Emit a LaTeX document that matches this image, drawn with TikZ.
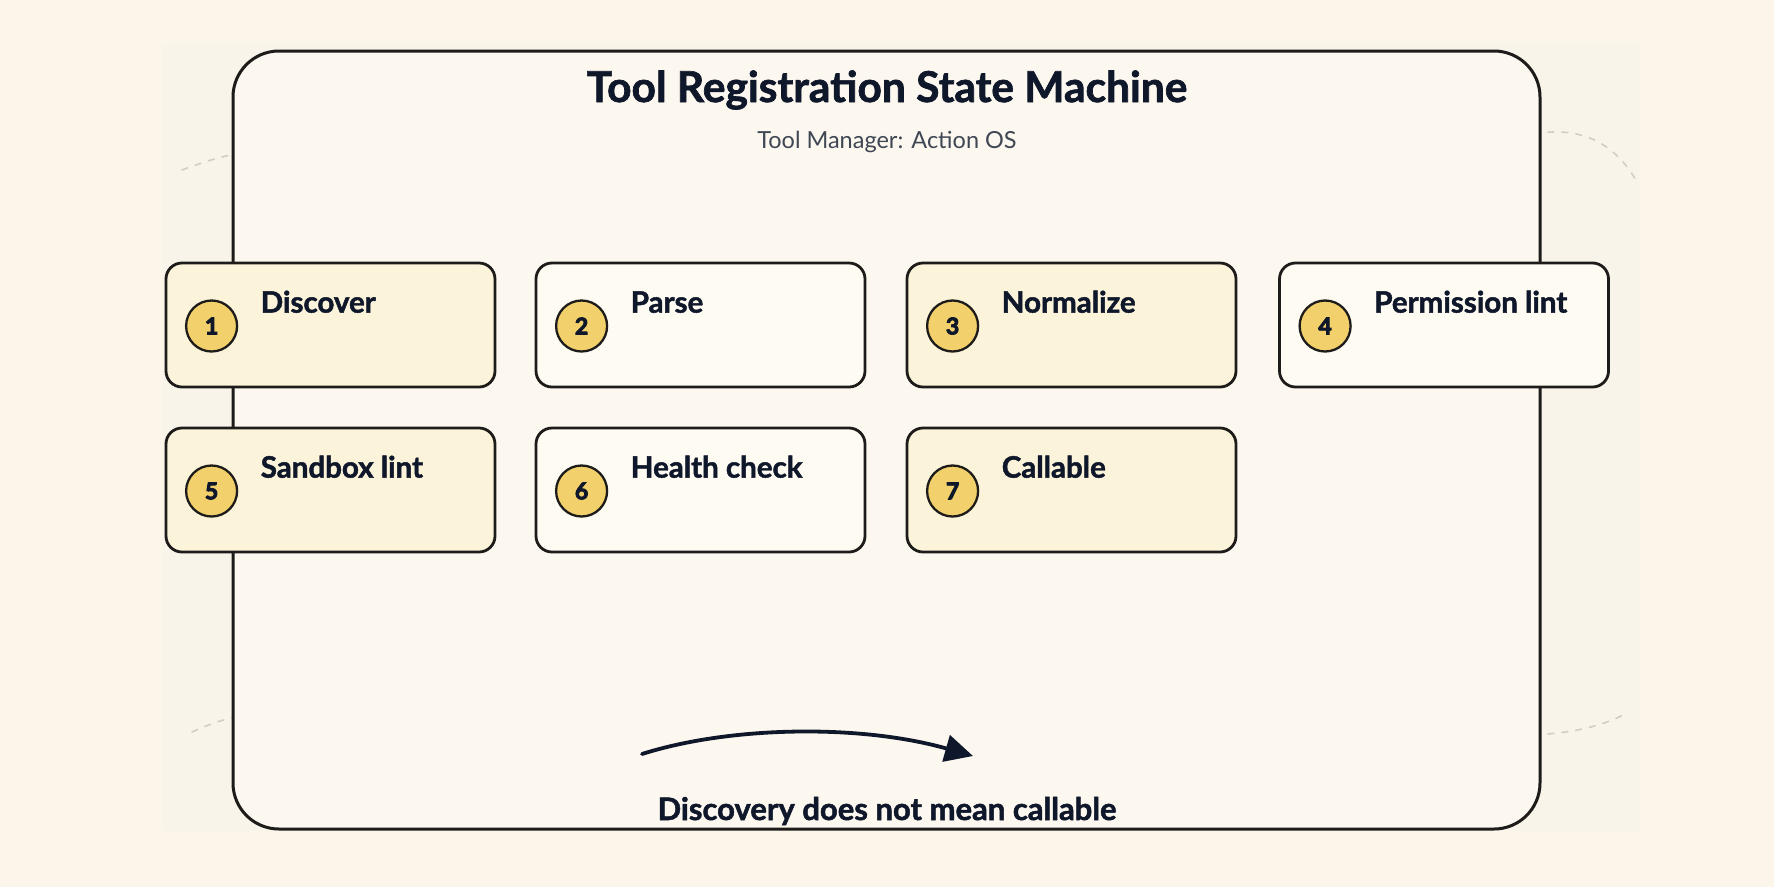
\documentclass[tikz,border=0pt]{standalone}
\usepackage{fontspec}
\setmainfont{Lato}[BoldFeatures={FakeBold=1.6}]
\newfontfamily\numfont[BoldFeatures={FakeBold=4}]{Lato}
\usetikzlibrary{arrows.meta,calc}
\definecolor{bgc}{HTML}{FBF5EA}
\definecolor{panelc}{HTML}{F9F4EA}
\definecolor{framefill}{HTML}{FCF8EF}
\definecolor{inkc}{HTML}{1E1C1A}
\definecolor{textc}{HTML}{0F172A}
\definecolor{subc}{HTML}{3F4654}
\definecolor{yelfill}{HTML}{FCF4DA}
\definecolor{whfill}{HTML}{FEFBF3}
\definecolor{badgec}{HTML}{F2D06B}
\definecolor{dashc}{HTML}{D3CDC3}
\tikzset{
  stepbox/.style={draw=inkc, line width=2.8pt, rounded corners=16pt, minimum width=329pt, minimum height=124pt, inner sep=0pt},
  yelbox/.style={stepbox, fill=yelfill},
  whbox/.style={stepbox, fill=whfill},
  badge/.style={circle, draw=inkc, line width=2.3pt, fill=badgec, minimum size=51pt, inner sep=0pt, text=textc, font=\numfont\bfseries\fontsize{23}{23}\selectfont},
  steplabel/.style={anchor=base west, inner sep=0pt, text=textc, font=\bfseries\fontsize{29.5}{29.5}\selectfont},
  deco/.style={draw=dashc, line width=1.6pt, dash pattern=on 6pt off 8pt, line cap=round},
}
\begin{document}
\begin{tikzpicture}[x=1pt,y=-1pt]
\useasboundingbox (0,0) rectangle (1774,887);
\fill[bgc] (0,0) rectangle (1774,887);
\fill[panelc] (163,45) rectangle (1640,831);
% decorative dashed arcs
\draw[deco] (182,170) .. controls (198,164) and (218,157) .. (240,153);
\draw[deco] (1534,134) .. controls (1590,124) and (1620,152) .. (1637,182);
\draw[deco] (192,732) .. controls (205,726) and (220,720) .. (240,716);
\draw[deco] (1534,735) .. controls (1570,733) and (1600,727) .. (1623,715);
% frame
\node[draw=inkc, line width=3pt, fill=framefill, rounded corners=46pt, minimum width=1307pt, minimum height=778pt, inner sep=0pt] (frame) at (886.5,440) {};
\node[anchor=base, inner sep=0pt, text=textc, font=\bfseries\fontsize{42.5}{42.5}\selectfont] (title) at (887,102) {Tool Registration State Machine};
\node[anchor=base, inner sep=0pt, text=subc, font=\fontsize{23.5}{23.5}\selectfont] (sub) at (887,148) {Tool Manager: Action OS};
% boxes
\node[yelbox] (b1) at (330.5,325) {};
\node[whbox]  (b2) at (700.5,325) {};
\node[yelbox] (b3) at (1071.5,325) {};
\node[whbox]  (b4) at (1444,325) {};
\node[yelbox] (b5) at (330.5,490) {};
\node[whbox]  (b6) at (700.5,490) {};
\node[yelbox] (b7) at (1071.5,490) {};
\foreach \i/\t in {1/Discover,2/Parse,3/Normalize,4/Permission lint,5/Sandbox lint,6/Health check,7/Callable}{
  \node[badge] (c\i) at ($(b\i.west)+(47,1)$) {\i};
  \node[steplabel] (l\i) at ($(b\i.north west)+(96,51)$) {\t};
}
% arrow
\coordinate (as) at (642,754);
\coordinate (ae) at (973,756);
\draw[textc, line width=3.8pt, line cap=round, -{Triangle[length=28pt,width=27pt]}] (as) .. controls (730,726) and (860,724) .. (ae);
\node[anchor=base, inner sep=0pt, text=textc, font=\bfseries\fontsize{31}{31}\selectfont] (note) at (887,820) {Discovery does not mean callable};
\end{tikzpicture}
\end{document}
